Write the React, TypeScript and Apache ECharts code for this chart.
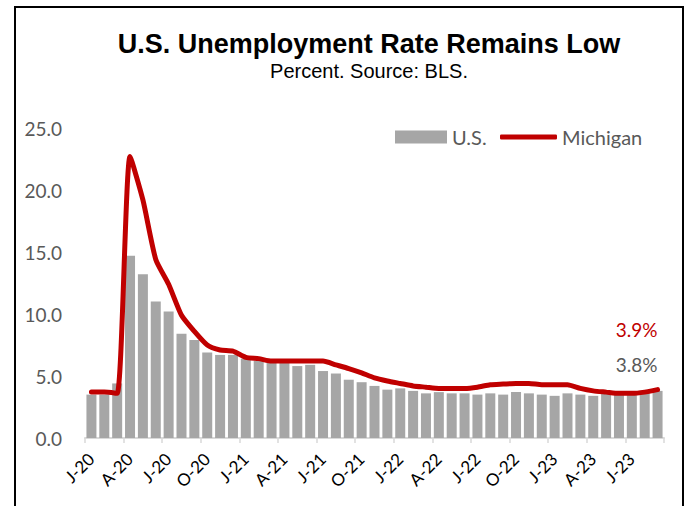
import React, { useEffect, useRef } from "react";
import * as echarts from "echarts";

// Monthly, Jan 2020 – Sep 2023
const usRate = [
  3.5, 3.5, 4.4, 14.7, 13.2, 11.0, 10.2, 8.4, 7.9, 6.9, 6.7, 6.7,
  6.4, 6.2, 6.1, 6.1, 5.8, 5.9, 5.4, 5.2, 4.7, 4.5, 4.2, 3.9,
  4.0, 3.8, 3.6, 3.7, 3.6, 3.6, 3.5, 3.6, 3.5, 3.7, 3.6, 3.5,
  3.4, 3.6, 3.5, 3.4, 3.7, 3.6, 3.5, 3.8, 3.8,
];
const michiganRate = [
  3.7, 3.7, 3.6, 22.7, 19.2, 14.4, 12.4, 9.9, 8.6, 7.5, 7.1, 7.0,
  6.5, 6.4, 6.2, 6.2, 6.2, 6.2, 6.2, 5.9, 5.6, 5.25, 4.85, 4.6,
  4.4, 4.2, 4.1, 4.0, 4.0, 4.0, 4.1, 4.3, 4.35, 4.4, 4.4, 4.3,
  4.3, 4.3, 4.0, 3.8, 3.7, 3.6, 3.6, 3.7, 3.9,
];
// labels at every 3rd month boundary
const tickLabels = [
  "J-20", "A-20", "J-20", "O-20", "J-21", "A-21", "J-21", "O-21",
  "J-22", "A-22", "J-22", "O-22", "J-23", "A-23", "J-23",
];
const yTicks = [0, 5, 10, 15, 20, 25];

const RED = "#c00000";
const GRAY_TXT = "#595959";
const BAR = "#a6a6a6";
const FONT = "Lato, 'Open Sans', sans-serif";

export default function App() {
  const ref = useRef<HTMLDivElement>(null);

  useEffect(() => {
    if (!ref.current) return;
    const chart = echarts.init(ref.current, undefined, { renderer: "svg" });
    const n = usRate.length;
    const lastUS = usRate[n - 1];
    const lastMI = michiganRate[n - 1];

    const barData = usRate.map((v, i) =>
      i === n - 1
        ? {
            value: [i + 0.5, v],
            label: {
              show: true,
              position: "top",
              formatter: `${lastUS.toFixed(1)}%`,
              color: GRAY_TXT,
              fontSize: 19,
              fontFamily: FONT,
              offset: [-21, -12],
            },
          }
        : { value: [i + 0.5, v] }
    );
    const lineData = michiganRate.map((v, i) =>
      i === n - 1
        ? {
            value: [i + 0.5, v],
            label: {
              show: true,
              position: "top",
              formatter: `${lastMI.toFixed(1)}%`,
              color: RED,
              fontSize: 19,
              fontFamily: FONT,
              offset: [-21, -45],
            },
          }
        : { value: [i + 0.5, v] }
    );

    chart.setOption({
      animation: false,
      backgroundColor: "#ffffff",
      title: {
        text: "U.S. Unemployment Rate Remains Low",
        subtext: "Percent. Source: BLS.",
        left: 364,
        textAlign: "center",
        top: 25,
        itemGap: 4,
        textStyle: {
          fontFamily: "'Liberation Sans', Arial, sans-serif",
          fontWeight: "bold",
          fontSize: 27,
          color: "#000",
        },
        subtextStyle: {
          fontFamily: "'Liberation Sans', Arial, sans-serif",
          fontSize: 20,
          color: "#000",
        },
      },
      legend: [
        {
          data: ["U.S."],
          left: 390,
          top: 122,
          icon: "rect",
          itemWidth: 52,
          itemHeight: 13,
          textStyle: { color: GRAY_TXT, fontSize: 20, fontFamily: FONT },
        },
        {
          data: ["Michigan"],
          left: 495,
          top: 122,
          icon: "roundRect",
          itemWidth: 57,
          itemHeight: 5,
          textStyle: { color: GRAY_TXT, fontSize: 20, fontFamily: FONT },
        },
      ],
      grid: { left: 85, right: 26, top: 128, bottom: 68 },
      xAxis: {
        type: "value",
        min: 0,
        max: n,
        interval: 3,
        splitLine: { show: false },
        axisLine: { show: true, lineStyle: { color: "#d9d9d9", width: 2 } },
        axisTick: { show: true, length: 5, lineStyle: { color: "#d9d9d9", width: 1.5 } },
        axisLabel: {
          rotate: 45,
          margin: 12,
          verticalAlign: "top",
          showMinLabel: true,
          showMaxLabel: true,
          color: "#000",
          fontSize: 17,
          fontFamily: FONT,
          formatter: (v: number) => tickLabels[Math.round(v / 3)] ?? "",
        },
      },
      yAxis: {
        type: "value",
        min: yTicks[0],
        max: yTicks[yTicks.length - 1],
        interval: 5,
        splitLine: { show: false },
        axisLine: { show: false },
        axisTick: { show: false },
        axisLabel: {
          margin: 23,
          color: GRAY_TXT,
          fontSize: 19,
          fontFamily: FONT,
          formatter: (v: number) => v.toFixed(1),
        },
      },
      series: [
        {
          name: "U.S.",
          type: "bar",
          data: barData,
          barWidth: 10,
          itemStyle: { color: BAR },
          z: 2,
        },
        {
          name: "Michigan",
          type: "line",
          data: lineData,
          smooth: 0.2,
          showSymbol: true,
          symbol: "circle",
          symbolSize: 1,
          itemStyle: { color: RED },
          lineStyle: { color: RED, width: 5, cap: "round", join: "round" },
          z: 3,
        },
      ],
      graphic: [
        {
          type: "rect",
          shape: { x: 15, y: 7, width: 668, height: 540 },
          style: { fill: "none", stroke: "#000", lineWidth: 2 },
          silent: true,
          z: 10,
        },
      ],
    });
    return () => chart.dispose();
  }, []);

  return (
    <div
      ref={ref}
      style={{ position: "fixed", left: 0, top: 0, width: 690, height: 506 }}
    />
  );
}
